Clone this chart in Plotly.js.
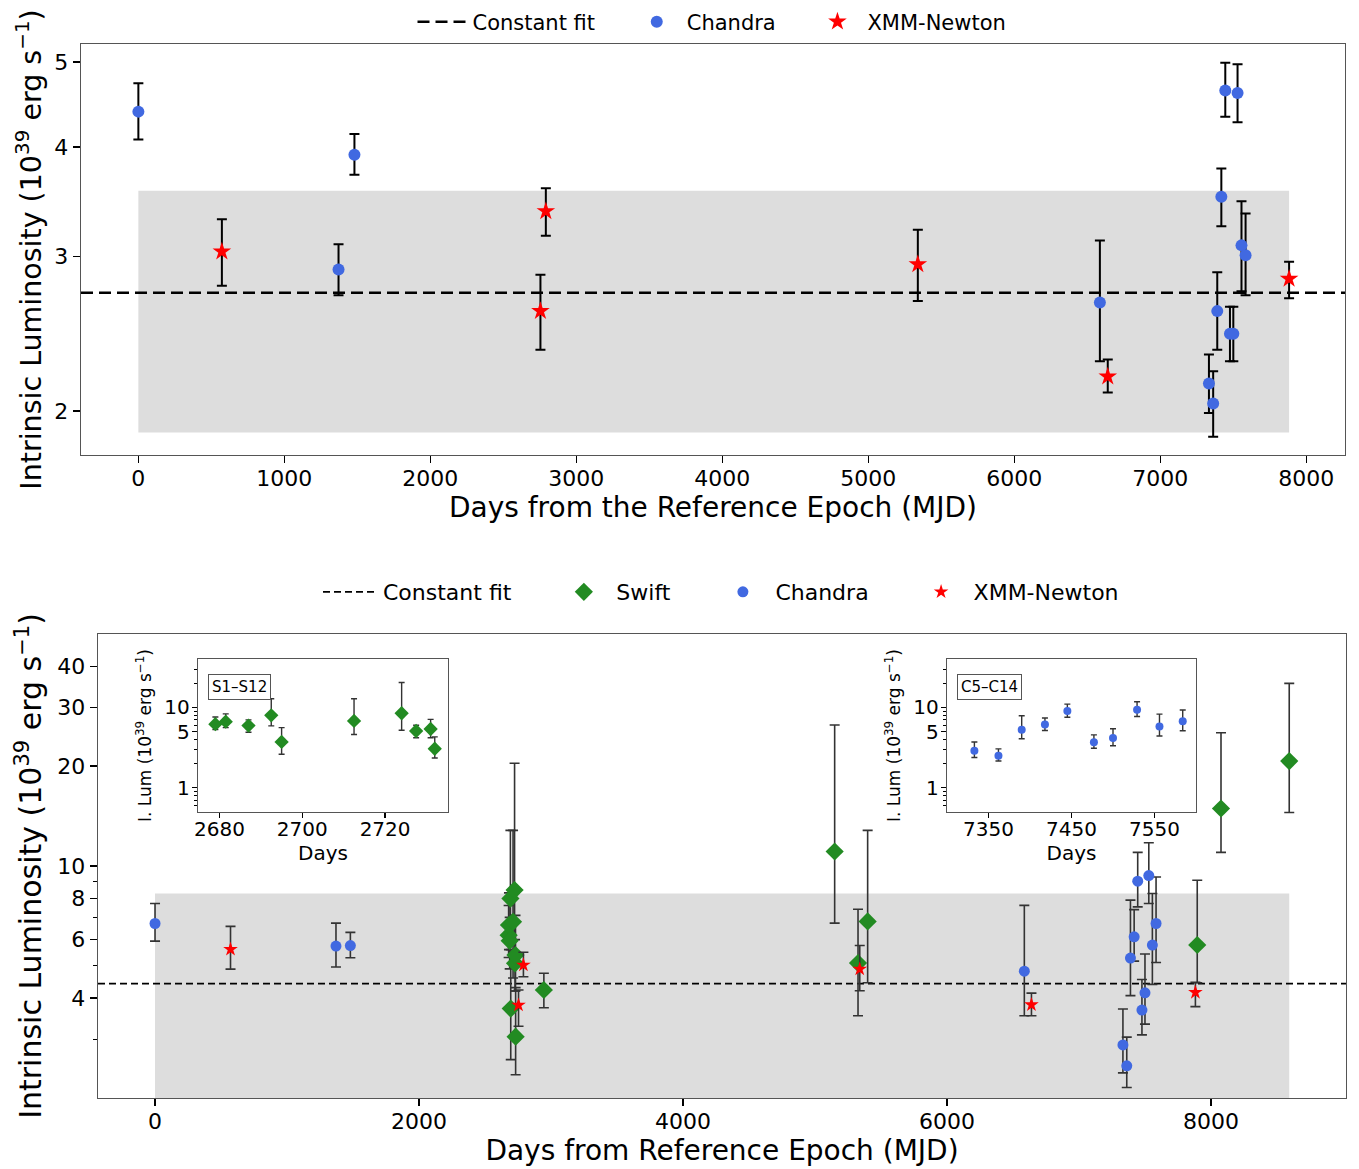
<!DOCTYPE html>
<html><head><meta charset="utf-8">
<script src="https://cdn.plot.ly/plotly-3.0.1.min.js"></script>
<style>html,body{margin:0;padding:0;background:#fff}#chart{width:1359px;height:1169px}</style>
</head><body><div id="chart"></div>
<script>
// ---------------- DATA ----------------
// Chandra observations (days from reference epoch, shared by both panels)
const chandraDays = [0, 1371, 1480, 6586, 7333, 7362, 7390, 7418, 7445, 7477, 7500, 7529, 7556, 7584];
// Top panel (Chandra + XMM-Newton only)
const chandraLumTop = [4.39, 2.90, 3.92, 2.66, 2.15, 2.04, 2.60, 3.51, 4.64, 2.45, 2.45, 4.61, 3.09, 3.01];
const chandraLoTop  = [4.08, 2.71, 3.72, 2.28, 1.99, 1.87, 2.35, 3.25, 4.33, 2.28, 2.28, 4.27, 2.74, 2.71];
const chandraHiTop  = [4.73, 3.10, 4.14, 3.13, 2.32, 2.22, 2.88, 3.78, 4.99, 2.63, 2.63, 4.97, 3.47, 3.36];
// Bottom panel
const chandraLumBot = [6.71, 5.74, 5.76, 4.82, 2.89, 2.50, 5.28, 6.12, 9.00, 3.68, 4.15, 9.36, 5.78, 6.71];
const chandraLoBot  = [5.94, 4.96, 5.29, 3.54, 2.38, 2.15, 4.07, 5.17, 7.53, 3.10, 3.34, 7.71, 4.40, 5.12];
const chandraHiBot  = [7.71, 6.73, 6.31, 7.61, 3.71, 3.05, 7.89, 7.39, 10.99, 4.55, 5.43, 11.75, 8.26, 9.27];

const xmmDays = [572, 2754, 2791, 5339, 6640, 7882];
const xmmLumTop = [3.04, 2.60, 3.38, 2.94, 2.19, 2.83];
const xmmLoTop  = [2.78, 2.35, 3.17, 2.67, 2.10, 2.69];
const xmmHiTop  = [3.31, 2.86, 3.59, 3.22, 2.29, 2.96];
const xmmLumBot = [5.61, 3.81, 5.03, 4.89, 3.82, 4.16];
const xmmLoBot  = [4.89, 3.29, 4.64, 4.21, 3.54, 3.77];
const xmmHiBot  = [6.58, 4.23, 5.50, 5.76, 4.14, 4.46];

const swiftDays = [2679, 2681.5, 2687, 2692.5, 2695, 2712.5, 2724, 2727.5, 2731, 2732, 2946, 5149, 5326, 5399, 7896, 8076, 8593];
const swiftLum  = [6.19, 6.64, 5.95, 7.98, 3.72, 6.79, 8.46, 5.09, 5.39, 3.06, 4.23, 11.06, 5.10, 6.81, 5.78, 14.9, 20.7];
const swiftLo   = [5.30, 5.60, 4.90, 5.90, 2.61, 4.60, 5.20, 4.20, 4.20, 2.35, 3.74, 6.73, 3.54, 4.45, 4.45, 10.99, 14.5];
const swiftHi   = [7.60, 8.30, 7.00, 12.8, 5.60, 12.8, 20.4, 6.00, 7.10, 4.30, 4.75, 26.6, 7.41, 12.8, 9.06, 25.2, 35.5];

// constant fits: [value, lower, upper]
const fitTop = [2.729, 1.891, 3.567];
const fitBot = [4.42, 0.57, 8.27];

// inset ranges and labels
const inset1Range = [2675, 2735];
const inset2Range = [7300, 7600];
const inset1Label = 'S1\u2013S12';
const inset2Label = 'C5\u2013C14';

// legend names
const nameFit = 'Constant fit', nameSwift = 'Swift', nameChandra = 'Chandra', nameXMM = 'XMM-Newton';

// ---------------- HELPERS ----------------
const FONT = 'DejaVu Sans, sans-serif';
const topXRange = [-393, 8265];
const botXRange = [-432, 9023];
const PAD_TOP = '\u00a0\u00a0\u00a0\u00a0';
const PAD_BOT = '\u00a0\u00a0\u00a0\u00a0\u00a0';

function errs(v, lo, hi, color, th, w) {
  return {type: 'data', symmetric: false,
    array: hi.map((h, i) => h - v[i]),
    arrayminus: lo.map((l, i) => v[i] - l),
    color: color, thickness: th, width: w};
}
function pick(arr, idx) { return idx.map(i => arr[i]); }
function inRange(days, r) { const o = []; days.forEach((d, i) => { if (d >= r[0] && d <= r[1]) o.push(i); }); return o; }

const traces = [];
// ----- top panel -----
{
  const all = chandraDays.concat(xmmDays);
  const x0 = Math.min(...all), x1 = Math.max(...all);
  traces.push({x: [x0, x1, x1, x0], y: [fitTop[1], fitTop[1], fitTop[2], fitTop[2]], fill: 'toself',
    fillcolor: '#dddddd', line: {width: 0}, mode: 'lines', hoverinfo: 'skip', showlegend: false,
    xaxis: 'x', yaxis: 'y'});
  traces.push({x: topXRange, y: [fitTop[0], fitTop[0]], mode: 'lines', name: nameFit + PAD_TOP,
    line: {color: '#000', width: 2.5, dash: '12px,6px'}, xaxis: 'x', yaxis: 'y', legend: 'legend'});
  traces.push({x: chandraDays, y: chandraLumTop, mode: 'markers', name: nameChandra + PAD_TOP,
    marker: {symbol: 'circle', size: 12, color: '#4169E1'},
    error_y: errs(chandraLumTop, chandraLoTop, chandraHiTop, '#000', 2, 5),
    xaxis: 'x', yaxis: 'y', legend: 'legend'});
  traces.push({x: xmmDays, y: xmmLumTop, mode: 'markers', name: nameXMM,
    marker: {symbol: 'star', size: 14, color: 'red'},
    error_y: errs(xmmLumTop, xmmLoTop, xmmHiTop, '#000', 2, 5),
    xaxis: 'x', yaxis: 'y', legend: 'legend'});
}
// ----- bottom panel -----
{
  const all = chandraDays.concat(xmmDays, swiftDays);
  const x0 = Math.min(...all), x1 = Math.max(...all);
  traces.push({x: [x0, x1, x1, x0], y: [fitBot[1], fitBot[1], fitBot[2], fitBot[2]], fill: 'toself',
    fillcolor: '#dddddd', line: {width: 0}, mode: 'lines', hoverinfo: 'skip', showlegend: false,
    xaxis: 'x2', yaxis: 'y2'});
  traces.push({x: botXRange, y: [fitBot[0], fitBot[0]], mode: 'lines', name: nameFit + PAD_BOT,
    line: {color: '#000', width: 1.8, dash: '7px,4px'}, xaxis: 'x2', yaxis: 'y2', legend: 'legend2'});
  traces.push({x: swiftDays, y: swiftLum, mode: 'markers', name: nameSwift + PAD_BOT,
    marker: {symbol: 'diamond', size: 14, color: '#228B22'},
    error_y: errs(swiftLum, swiftLo, swiftHi, '#333', 1.6, 5),
    xaxis: 'x2', yaxis: 'y2', legend: 'legend2'});
  traces.push({x: chandraDays, y: chandraLumBot, mode: 'markers', name: nameChandra + PAD_BOT,
    marker: {symbol: 'circle', size: 11, color: '#4169E1'},
    error_y: errs(chandraLumBot, chandraLoBot, chandraHiBot, '#333', 1.6, 5),
    xaxis: 'x2', yaxis: 'y2', legend: 'legend2'});
  traces.push({x: xmmDays, y: xmmLumBot, mode: 'markers', name: nameXMM,
    marker: {symbol: 'star', size: 11, color: 'red'},
    error_y: errs(xmmLumBot, xmmLoBot, xmmHiBot, '#333', 1.6, 5),
    xaxis: 'x2', yaxis: 'y2', legend: 'legend2'});
}
// ----- insets -----
{
  const si = inRange(swiftDays, inset1Range);
  const sv = pick(swiftLum, si);
  traces.push({x: pick(swiftDays, si), y: sv, mode: 'markers', showlegend: false,
    marker: {symbol: 'diamond', size: 11, color: '#228B22'},
    error_y: errs(sv, pick(swiftLo, si), pick(swiftHi, si), '#333', 1.4, 3),
    xaxis: 'x3', yaxis: 'y3'});
  const ci = inRange(chandraDays, inset2Range);
  const cv = pick(chandraLumBot, ci);
  traces.push({x: pick(chandraDays, ci), y: cv, mode: 'markers', showlegend: false,
    marker: {symbol: 'circle', size: 8, color: '#4169E1'},
    error_y: errs(cv, pick(chandraLoBot, ci), pick(chandraHiBot, ci), '#333', 1.4, 3),
    xaxis: 'x4', yaxis: 'y4'});
}

// ---------------- LAYOUT ----------------
const W = 1359, H = 1169;
const fx = (a, b) => [a / W, b / W];
const fy = (top, bot) => [1 - bot / H, 1 - top / H];
const baseAx = {showline: true, mirror: true, linecolor: '#555', linewidth: 1.3, ticks: 'outside',
  tickcolor: '#000', tickwidth: 1.3, showgrid: false, zeroline: false, fixedrange: true};
const yTitle = 'Intrinsic Luminosity (10<sup>39</sup> erg s<sup>\u22121</sup>)';
const insetY = 'I. Lum (10<sup>39</sup> erg s<sup>\u22121</sup>)';
const insetMinor = {tickvals: [0.6, 0.7, 0.8, 0.9, 2, 3, 4, 6, 7, 8, 9, 20, 30], ticklen: 3, tickwidth: 1, tickcolor: '#000', ticks: 'outside'};

const layout = {
  width: W, height: H, margin: {l: 0, r: 0, t: 0, b: 0},
  paper_bgcolor: '#fff', plot_bgcolor: '#fff',
  font: {family: FONT, color: '#000', size: 20},
  showlegend: true,
  xaxis: Object.assign({}, baseAx, {domain: fx(81, 1345), anchor: 'y', range: topXRange,
    tickvals: [0, 1000, 2000, 3000, 4000, 5000, 6000, 7000, 8000], ticklen: 7, ticklabelstandoff: -4,
    tickfont: {size: 22}, title: {text: 'Days from the Reference Epoch (MJD)', font: {size: 28}, standoff: 4}}),
  yaxis: Object.assign({}, baseAx, {domain: fy(44, 455), anchor: 'x', type: 'log',
    range: [Math.log10(1.782), Math.log10(5.243)], tickvals: [2, 3, 4, 5], ticklen: 7,
    tickfont: {size: 22}, title: {text: yTitle, font: {size: 28.5}, standoff: 4}}),
  xaxis2: Object.assign({}, baseAx, {domain: fx(98, 1346), anchor: 'y2', range: botXRange,
    tickvals: [0, 2000, 4000, 6000, 8000], ticklen: 7, ticklabelstandoff: -4,
    tickfont: {size: 22}, title: {text: 'Days from Reference Epoch (MJD)', font: {size: 28}, standoff: 4}}),
  yaxis2: Object.assign({}, baseAx, {domain: fy(634, 1098), anchor: 'x2', type: 'log',
    range: [Math.log10(2), Math.log10(50)], tickvals: [4, 6, 8, 10, 20, 30, 40], ticklen: 7,
    minor: {tickvals: [3, 5, 7, 9], ticklen: 4, tickwidth: 1, tickcolor: '#000', ticks: 'outside'},
    tickfont: {size: 22}, title: {text: yTitle, font: {size: 30}, standoff: 6}}),
  xaxis3: Object.assign({}, baseAx, {domain: fx(198, 448), anchor: 'y3', range: [2674.8, 2735.2],
    tickvals: [2680, 2700, 2720], ticklen: 5, ticklabelstandoff: -6, tickfont: {size: 20},
    title: {text: 'Days', font: {size: 20}, standoff: 0}}),
  yaxis3: Object.assign({}, baseAx, {domain: fy(659, 812), anchor: 'x3', type: 'log',
    range: [Math.log10(0.5), Math.log10(40)], tickvals: [1, 5, 10], ticklen: 5, minor: insetMinor,
    ticklabelstandoff: -2,
    tickfont: {size: 20}, title: {text: insetY, font: {size: 17}, standoff: 8}}),
  xaxis4: Object.assign({}, baseAx, {domain: fx(947, 1196), anchor: 'y4', range: [7300, 7600],
    tickvals: [7350, 7450, 7550], ticklen: 5, ticklabelstandoff: -6, tickfont: {size: 20},
    title: {text: 'Days', font: {size: 20}, standoff: 0}}),
  yaxis4: Object.assign({}, baseAx, {domain: fy(659, 812), anchor: 'x4', type: 'log',
    range: [Math.log10(0.5), Math.log10(40)], tickvals: [1, 5, 10], ticklen: 5, minor: insetMinor,
    ticklabelstandoff: -2,
    tickfont: {size: 20}, title: {text: insetY, font: {size: 17}, standoff: 8}}),
  legend: {orientation: 'h', x: 712 / W, xanchor: 'center', y: 1 - 22 / H, yanchor: 'middle',
    bgcolor: 'rgba(0,0,0,0)', font: {size: 21}, itemwidth: 50, traceorder: 'normal'},
  legend2: {orientation: 'h', x: 721 / W, xanchor: 'center', y: 1 - 592 / H, yanchor: 'middle',
    bgcolor: 'rgba(0,0,0,0)', font: {size: 22}, itemwidth: 55, traceorder: 'normal'},
  annotations: [
    {text: inset1Label, xref: 'x3 domain', yref: 'y3 domain', x: 0.04, y: 0.9, xanchor: 'left', yanchor: 'top',
     showarrow: false, font: {size: 15}, bordercolor: '#555', borderwidth: 1, borderpad: 3, bgcolor: '#fff'},
    {text: inset2Label, xref: 'x4 domain', yref: 'y4 domain', x: 0.04, y: 0.9, xanchor: 'left', yanchor: 'top',
     showarrow: false, font: {size: 15}, bordercolor: '#555', borderwidth: 1, borderpad: 3, bgcolor: '#fff'}
  ]
};

Plotly.newPlot('chart', traces, layout, {staticPlot: true, displayModeBar: false});
</script></body></html>
